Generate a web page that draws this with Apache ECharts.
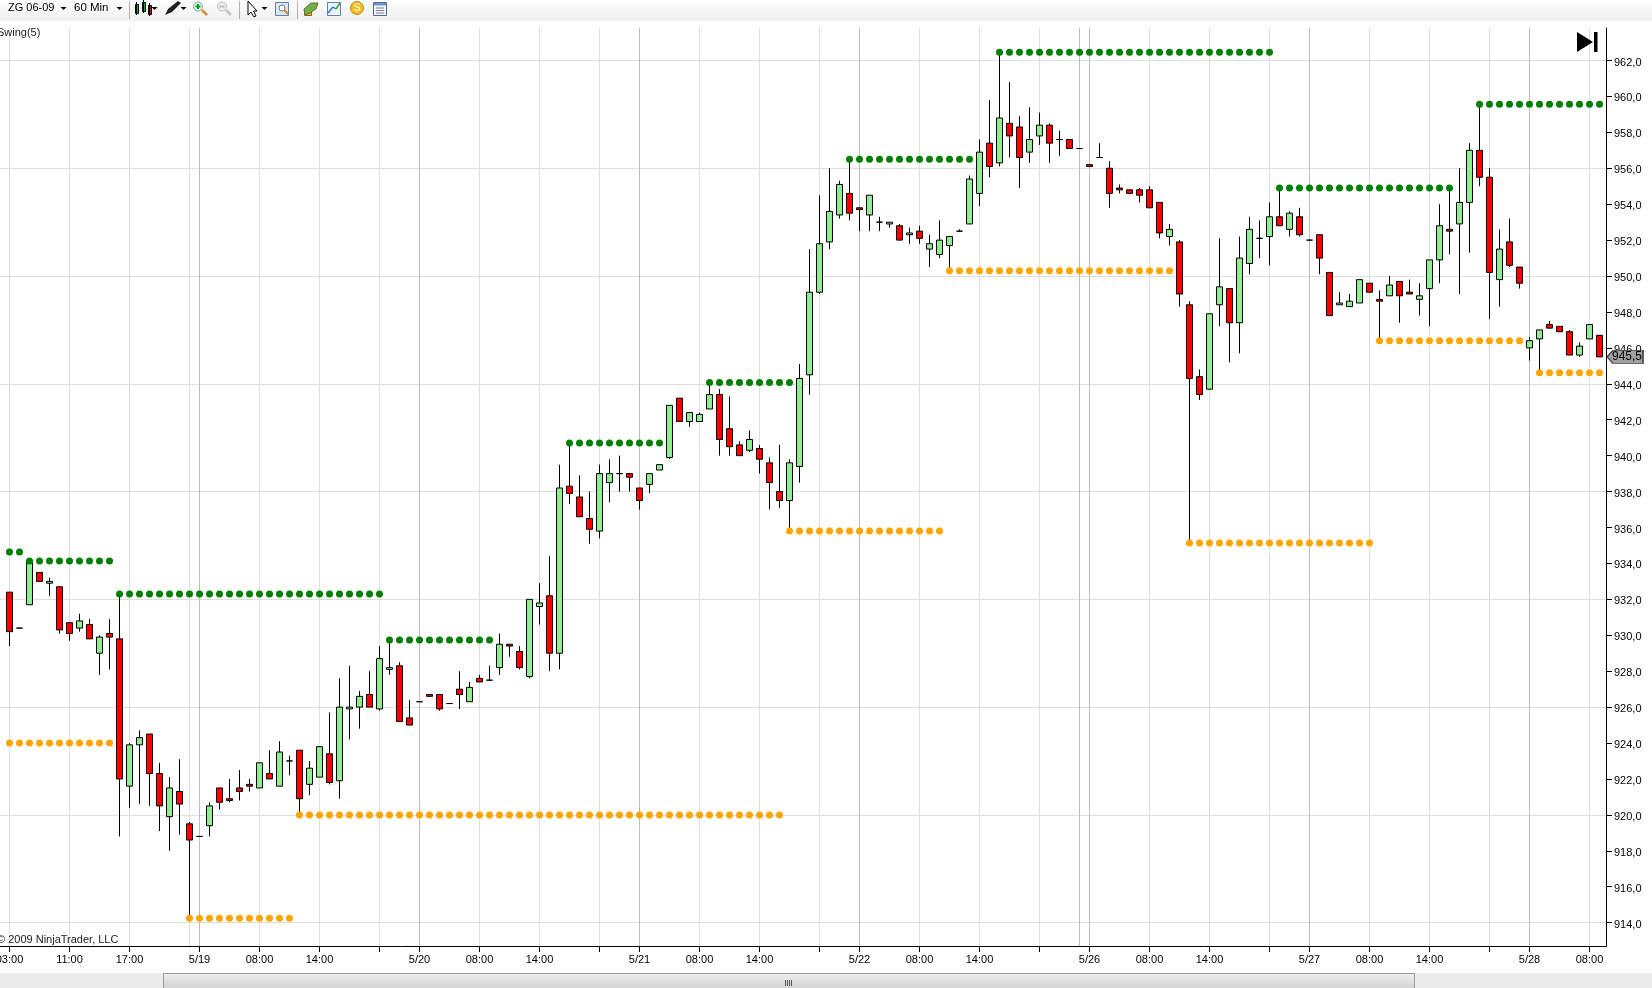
<!DOCTYPE html>
<html>
<head>
<meta charset="utf-8">
<title>ZG 06-09 60 Min</title>
<script src="https://cdn.jsdelivr.net/npm/echarts@6/dist/echarts.min.js"></script>
<style>
html, body { margin: 0; padding: 0; background: #fff; overflow: hidden; }
#main { width: 1652px; height: 988px; }
</style>
</head>
<body>
<div id="main"></div>
<script>
// one 60 min bar per entry
var opens = [
  932.4,930.4,931.7,933.5,932.9,932.7,930.7,930.4,930.6,929.0,
  930.1,929.8,921.6,923.9,924.5,922.3,919.9,921.3,919.5,918.8,
  919.4,921.5,920.9,921.5,921.7,921.5,922.3,921.6,923.0,923.6,
  921.7,922.1,923.4,921.9,925.9,926.0,926.7,925.9,928.1,928.3,
  925.4,926.3,926.7,926.7,926.2,927.0,926.3,927.6,927.5,928.2,
  929.5,929.1,927.7,931.6,932.2,929.0,938.3,937.7,936.5,935.8,
  938.5,939.0,939.0,938.2,938.4,939.2,939.9,943.2,941.9,941.9,
  942.6,943.4,941.5,940.6,940.3,940.4,939.6,938.0,937.5,939.4,
  944.5,949.1,951.9,953.4,954.6,953.8,953.4,953.0,952.9,952.8,
  952.3,952.5,951.5,951.2,951.7,952.5,952.9,954.6,957.4,956.3,
  958.5,958.3,956.9,957.8,958.4,957.6,957.6,957.1,956.2,956.6,
  956.0,954.9,954.8,954.8,954.8,954.1,952.2,951.9,948.4,944.4,
  943.7,948.4,949.3,947.4,950.7,952.1,952.2,953.3,952.6,953.3,
  952.0,952.3,950.2,948.4,948.3,948.5,949.6,948.7,948.9,949.7,
  949.1,948.7,949.3,950.9,952.6,952.9,954.1,957.0,955.5,949.8,
  951.9,950.5,946.0,946.5,947.3,947.2,946.9,945.6,946.5,946.7
];
var closes = [
  930.2,930.4,934.1,933.0,933.0,930.3,930.1,930.8,929.8,929.9,
  929.9,922.0,923.9,924.3,922.3,920.5,921.5,920.6,918.6,918.8,
  920.5,920.7,920.8,921.3,921.6,922.9,922.0,923.5,923.0,920.9,
  922.6,923.8,921.8,926.0,926.0,926.6,926.0,928.7,928.2,925.2,
  925.0,926.3,926.6,925.9,926.2,926.7,927.1,927.4,927.5,929.5,
  929.4,928.2,932.0,931.8,929.0,938.2,937.9,936.6,935.9,939.0,
  939.0,939.0,938.8,937.5,939.0,939.5,942.8,941.9,942.4,942.3,
  943.4,940.9,940.5,940.0,940.9,939.8,938.5,937.5,939.6,944.3,
  949.1,951.8,953.6,955.1,953.5,953.7,954.5,953.0,953.0,952.0,
  952.4,952.1,951.8,952.0,952.2,952.5,955.4,956.9,956.1,958.8,
  957.8,956.6,957.6,958.4,957.4,957.6,957.1,957.1,956.1,956.6,
  954.6,954.8,954.6,954.5,953.8,952.4,952.6,949.0,944.3,943.4,
  947.9,949.4,947.4,951.0,952.6,952.1,953.3,952.8,953.5,952.3,
  952.0,951.0,947.8,948.5,948.6,949.8,949.1,948.6,949.5,948.9,
  949.0,948.9,950.9,952.8,952.5,954.1,957.0,955.5,950.2,951.5,
  950.6,949.6,946.4,947.0,947.1,946.9,945.6,946.1,947.3,945.5
];
var lows = [
  929.4,930.4,931.7,933.0,932.2,930.1,929.7,930.2,929.8,927.8,
  928.1,918.8,920.4,920.6,920.5,919.1,918.0,918.9,914.3,918.8,
  918.8,920.3,920.7,920.8,921.3,921.5,922.0,921.6,922.2,920.0,
  921.1,922.1,921.7,920.9,924.2,924.8,926.0,925.8,927.8,925.2,
  925.0,926.3,926.6,925.8,926.2,925.9,926.3,927.4,927.5,927.8,
  928.8,928.1,927.6,930.6,928.0,928.1,937.3,936.6,935.1,935.4,
  937.4,938.0,938.0,937.0,937.9,939.2,939.8,941.9,941.6,941.9,
  942.6,940.0,940.0,940.0,940.2,939.0,937.0,937.1,935.8,938.5,
  943.4,949.0,951.5,953.2,953.1,952.5,952.5,952.5,952.7,952.0,
  951.8,951.8,950.5,951.0,950.4,952.5,952.9,953.9,955.5,956.1,
  956.6,954.9,956.3,957.3,956.3,956.7,957.1,957.1,956.1,956.6,
  953.8,954.6,954.6,954.1,953.8,952.1,951.7,948.3,935.2,943.1,
  943.7,947.2,945.2,945.7,950.1,951.0,950.6,952.8,952.2,952.2,
  952.0,950.1,947.8,948.4,948.3,948.5,949.1,946.5,948.9,947.4,
  949.0,947.8,947.2,949.6,951.2,949.0,951.3,955.0,947.6,948.3,
  950.5,949.3,945.3,944.7,947.1,946.9,945.6,945.5,946.5,945.5
];
var highs = [
  932.4,930.4,934.1,933.5,933.2,932.7,930.7,931.2,930.9,930.0,
  930.9,932.2,924.0,924.7,924.5,922.9,922.1,923.1,919.6,918.8,
  920.7,921.5,922.0,922.5,922.0,922.9,923.6,924.1,923.3,923.6,
  923.0,923.8,925.7,927.6,928.3,926.9,928.0,929.4,929.7,928.5,
  926.4,926.3,926.7,926.7,926.2,928.0,927.4,927.8,928.3,930.1,
  929.5,929.4,932.0,932.9,934.4,939.5,940.7,938.9,938.0,939.5,
  939.8,940.0,939.0,938.2,939.0,939.5,942.8,943.2,942.4,942.4,
  944.1,943.7,943.3,940.8,941.4,940.6,939.9,940.6,939.8,945.1,
  951.5,954.5,956.0,955.3,956.5,953.8,954.5,953.3,953.0,952.9,
  952.7,952.8,952.3,953.1,952.2,952.6,955.6,957.6,959.8,962.4,
  960.8,958.9,959.4,959.1,958.5,958.1,957.6,957.1,956.2,957.4,
  956.4,955.1,954.8,954.9,955.0,954.1,952.9,952.0,948.6,944.8,
  947.9,952.1,949.3,952.2,953.3,953.1,954.1,954.9,953.6,953.8,
  952.0,952.3,950.2,949.1,949.0,949.8,949.6,949.2,950.0,949.7,
  949.8,949.6,950.9,954.0,954.9,956.0,957.4,959.6,956.0,952.6,
  953.2,950.5,946.6,947.0,947.5,947.2,947.0,946.3,947.3,946.7
];

// Swing(5) levels: first bar, last bar, price
var swingHighs = [
  [0, 1, 934.63], [2, 10, 934.13], [11, 37, 932.3], [38, 48, 929.74],
  [56, 65, 940.7], [70, 78, 944.07], [84, 96, 956.5], [99, 126, 962.46],
  [127, 144, 954.9], [147, 159, 959.57]
];
var swingLows = [
  [0, 10, 924.0], [18, 28, 914.24], [29, 77, 920.0], [78, 93, 935.8],
  [94, 116, 950.3], [118, 136, 935.14], [137, 151, 946.4], [153, 159, 944.62]
];

var lastPrice = 945.5;

var xTicks = [0,6,12,19,25,31,37,41,47,53,59,63,69,75,81,85,91,97,103,108,114,120,126,130,136,142,148,152,158];
var xLabels = ['03:00','11:00','17:00','5/19','08:00','14:00','','5/20','08:00','14:00','','5/21','08:00','14:00','','5/22','08:00','14:00','','5/26','08:00','14:00','','5/27','08:00','14:00','','5/28','08:00'];
var lightLines = [0,6,12,18,25,31,37,47,53,59,69,75,81,91,97,103,114,120,126,136,142,148,158];
var darkLines = [19,41,63,85,107,108,130,152];
var yTicks = [914,916,918,920,922,924,926,928,930,932,934,936,938,940,942,944,946,948,950,952,954,956,958,960,962];
var yLines = [914,920,926,932,938,944,950,956,962];

var FONT = '"Liberation Sans", Arial, sans-serif';
var xMin = -0.95, xMax = 159.65, yMin = 912.7, yMax = 963.81;

var candles = opens.map(function (o, i) {
  return [i, o, closes[i], lows[i], highs[i]];
});

function dots(levels) {
  var out = [];
  levels.forEach(function (l) {
    for (var i = l[0]; i <= l[1]; i++) out.push([i, l[2]]);
  });
  return out;
}

function lineAxis(values, color, kind) {
  var a = {
    type: 'value', min: kind == 'x' ? xMin : yMin, max: kind == 'x' ? xMax : yMax,
    axisLine: { show: false },
    axisTick: { show: false, customValues: values },
    axisLabel: { show: false, customValues: values },
    splitLine: { show: true, lineStyle: { color: color, width: 1 } }
  };
  return a;
}

var xLabelValues = xTicks.filter(function (t, i) { return xLabels[i] !== ''; });

// toolbar and scrollbar are plain shapes around the chart
function box(x, y, w, h, fill, stroke) {
  return { type: 'rect', silent: true, z: 20, shape: { x: x, y: y, width: w, height: h }, style: { fill: fill, stroke: stroke || null, lineWidth: 1 } };
}
function poly(points, fill, stroke) {
  return { type: 'polygon', silent: true, z: 21, shape: { points: points }, style: { fill: fill, stroke: stroke || null, lineWidth: 1 } };
}
function label(x, y, str, size, color, align) {
  return { type: 'text', silent: true, z: 22, x: x, y: y, style: { text: str, font: (size || 11) + 'px ' + FONT, fill: color || '#000', textAlign: align || 'left', textVerticalAlign: 'middle' } };
}
function caret(x) {
  return poly([[x - 3, 7], [x + 3, 7], [x, 10]], '#000');
}
function ring(x, y, r, fill, stroke) {
  return { type: 'circle', silent: true, z: 21, shape: { cx: x, cy: y, r: r }, style: { fill: fill, stroke: stroke, lineWidth: 1 } };
}
function stroke(x1, y1, x2, y2, color, w) {
  return { type: 'line', silent: true, z: 21, shape: { x1: x1, y1: y1, x2: x2, y2: y2 }, style: { stroke: color, lineWidth: w || 1 } };
}
function smallCandle(x, y, h, fill) {
  return [stroke(x + 1.5, y - 2, x + 1.5, y + h + 2, '#000'), box(x + 0.5, y + 0.5, 3, h, fill, '#000')];
}

var toolbarGrad = { type: 'linear', x: 0, y: 0, x2: 0, y2: 1, colorStops: [{ offset: 0, color: '#fdfdfd' }, { offset: 1, color: '#efefef' }] };
var thumbGrad = { type: 'linear', x: 0, y: 0, x2: 0, y2: 1, colorStops: [{ offset: 0, color: '#efefef' }, { offset: 1, color: '#d0d0d0' }] };

var chrome = [
  box(0, 0, 1652, 21, toolbarGrad),
  box(0, 973, 1652, 15, '#ececec'),
  box(163.5, 973.5, 1251, 16, thumbGrad, '#9a9a9a'),
  stroke(785.5, 980, 785.5, 986, '#555'),
  stroke(787.5, 980, 787.5, 986, '#555'),
  stroke(789.5, 980, 789.5, 986, '#555'),
  stroke(791.5, 980, 791.5, 986, '#555'),
  label(8, 8, 'ZG 06-09', 11),
  caret(63.5),
  label(74, 8, '60 Min', 11.5),
  caret(119.5),
  stroke(129.5, 1, 129.5, 19, '#b0b0b0'),
  stroke(239.5, 1, 239.5, 19, '#b0b0b0'),
  stroke(297.5, 1, 297.5, 19, '#b0b0b0'),
  caret(154.5),
  poly([[165, 15], [168, 9], [178, 1], [181, 3], [172, 12]], '#222'),
  caret(183.5),
  ring(198, 6.5, 4.5, '#dff3df', '#7aa0b8'),
  stroke(195.5, 6.5, 200.5, 6.5, '#1a9a1a', 2),
  stroke(198, 4, 198, 9, '#1a9a1a', 2),
  stroke(202, 10, 207, 15, '#e08a30', 2.5),
  ring(222, 6.5, 4.5, '#eeeeee', '#c0c0c0'),
  stroke(219.5, 6.5, 224.5, 6.5, '#bbbbbb', 2),
  stroke(226, 10, 231, 15, '#c4c4c4', 2.5),
  poly([[248, 1], [248, 15], [251, 12], [254, 17], [256, 16], [253.5, 11], [257, 11]], '#fff', '#000'),
  caret(264.5),
  box(275.5, 2.5, 13, 13, '#dbe7f5', '#5b82b0'),
  ring(282, 8, 3, '#fff', '#7a7a7a'),
  stroke(284, 10, 288, 14, '#c98a30', 2),
  poly([[304, 9], [311, 3], [318, 3], [316, 9], [310, 13], [305, 15]], '#6fb04a', '#7a6a20'),
  box(304.5, 10.5, 7, 5, '#e3b23c', '#8a6a20'),
  box(327.5, 2.5, 13, 13, '#eef3fa', '#5b82b0'),
  stroke(328, 13, 333, 7, '#2d7fc9', 1.5),
  stroke(333, 7, 336, 9, '#2d7fc9', 1.5),
  stroke(336, 9, 340, 3, '#3aa03a', 1.5),
  ring(357, 8, 6.5, '#f0c020', '#c08a10'),
  label(357, 8.5, 'S', 10, '#fff', 'center'),
  box(373.5, 2.5, 13, 13, '#f2f6fb', '#4a6f9a'),
  box(374, 3, 12, 2.5, '#6f94c4'),
  stroke(376, 8, 384, 8, '#7a7a7a'),
  stroke(376, 10.5, 384, 10.5, '#7a7a7a'),
  stroke(376, 13, 384, 13, '#7a7a7a'),
  label(-3, 33, 'Swing(5)', 11, '#222'),
  label(-3, 940, '\u00a9 2009 NinjaTrader, LLC', 11, '#222'),
  poly([[1577, 32], [1593, 42], [1577, 52]], '#000'),
  box(1594, 32, 3.5, 20, '#000')
];
chrome = chrome
  .concat(smallCandle(135, 4, 9, '#00c000'))
  .concat(smallCandle(142, 2, 9, '#00c000'))
  .concat(smallCandle(148, 5, 9, '#e00000'));

var option = {
  animation: false,
  backgroundColor: '#fff',
  graphic: { elements: chrome },
  grid: { left: 0, top: 28, width: 1606, height: 918, containLabel: false, outerBoundsMode: 'none' },
  xAxis: [
    {
      type: 'value', min: xMin, max: xMax, position: 'bottom',
      axisLine: { show: true, onZero: false, lineStyle: { color: '#000', width: 1 } },
      axisTick: { show: true, length: 6, customValues: xTicks, lineStyle: { color: '#000', width: 1 } },
      axisLabel: {
        customValues: xLabelValues, color: '#000', fontFamily: FONT, fontSize: 11, margin: 8,
        hideOverlap: false, showMinLabel: true, showMaxLabel: true,
        formatter: function (v) { return xLabels[xTicks.indexOf(Math.round(v))]; }
      },
      splitLine: { show: false }
    },
    lineAxis(lightLines, '#dedede', 'x'),
    lineAxis(darkLines, '#bdbdbd', 'x')
  ],
  yAxis: [
    {
      type: 'value', min: yMin, max: yMax, position: 'right',
      axisLine: { show: true, onZero: false, lineStyle: { color: '#000', width: 1 } },
      axisTick: { show: true, length: 6, customValues: yTicks, lineStyle: { color: '#000', width: 1 } },
      axisLabel: {
        customValues: yTicks, color: '#000', fontFamily: FONT, fontSize: 11, margin: 8,
        verticalAlign: 'top', lineHeight: 4,
        formatter: function (v) { return v.toFixed(1).replace('.', ','); }
      },
      splitLine: { show: false }
    },
    lineAxis(yLines, '#dedede', 'y')
  ],
  series: [
    {
      name: 'ZG 06-09',
      type: 'candlestick',
      xAxisIndex: 0, yAxisIndex: 0,
      barWidth: 6,
      clip: false,
      z: 3,
      itemStyle: {
        color: '#90ee90', color0: '#ff0000',
        borderColor: '#000', borderColor0: '#000', borderColorDoji: '#000', borderWidth: 1
      },
      data: candles,
      markPoint: {
        z: 10,
        silent: true,
        data: [{ coord: [159, lastPrice], value: lastPrice }],
        symbol: 'path://M0 6.5 L6 0 H36 V13 H6 Z',
        symbolSize: [36, 13],
        symbolKeepAspect: false,
        symbolOffset: [25.5, 0],
        itemStyle: { color: '#a0a0a0', borderColor: '#444', borderWidth: 1 },
        label: {
          show: true, color: '#000', fontFamily: FONT, fontSize: 12, offset: [2, 0],
          formatter: function () { return lastPrice.toFixed(1).replace('.', ','); }
        }
      }
    },
    {
      name: 'Swing high',
      type: 'scatter', xAxisIndex: 0, yAxisIndex: 0, symbolSize: 7, z: 4,
      itemStyle: { color: '#008000', opacity: 1 },
      data: dots(swingHighs)
    },
    {
      name: 'Swing low',
      type: 'scatter', xAxisIndex: 0, yAxisIndex: 0, symbolSize: 7, z: 4,
      itemStyle: { color: '#ffa500', opacity: 1 },
      data: dots(swingLows)
    }
  ]
};

var chart = echarts.init(document.getElementById('main'));
chart.setOption(option);
</script>
</body>
</html>
